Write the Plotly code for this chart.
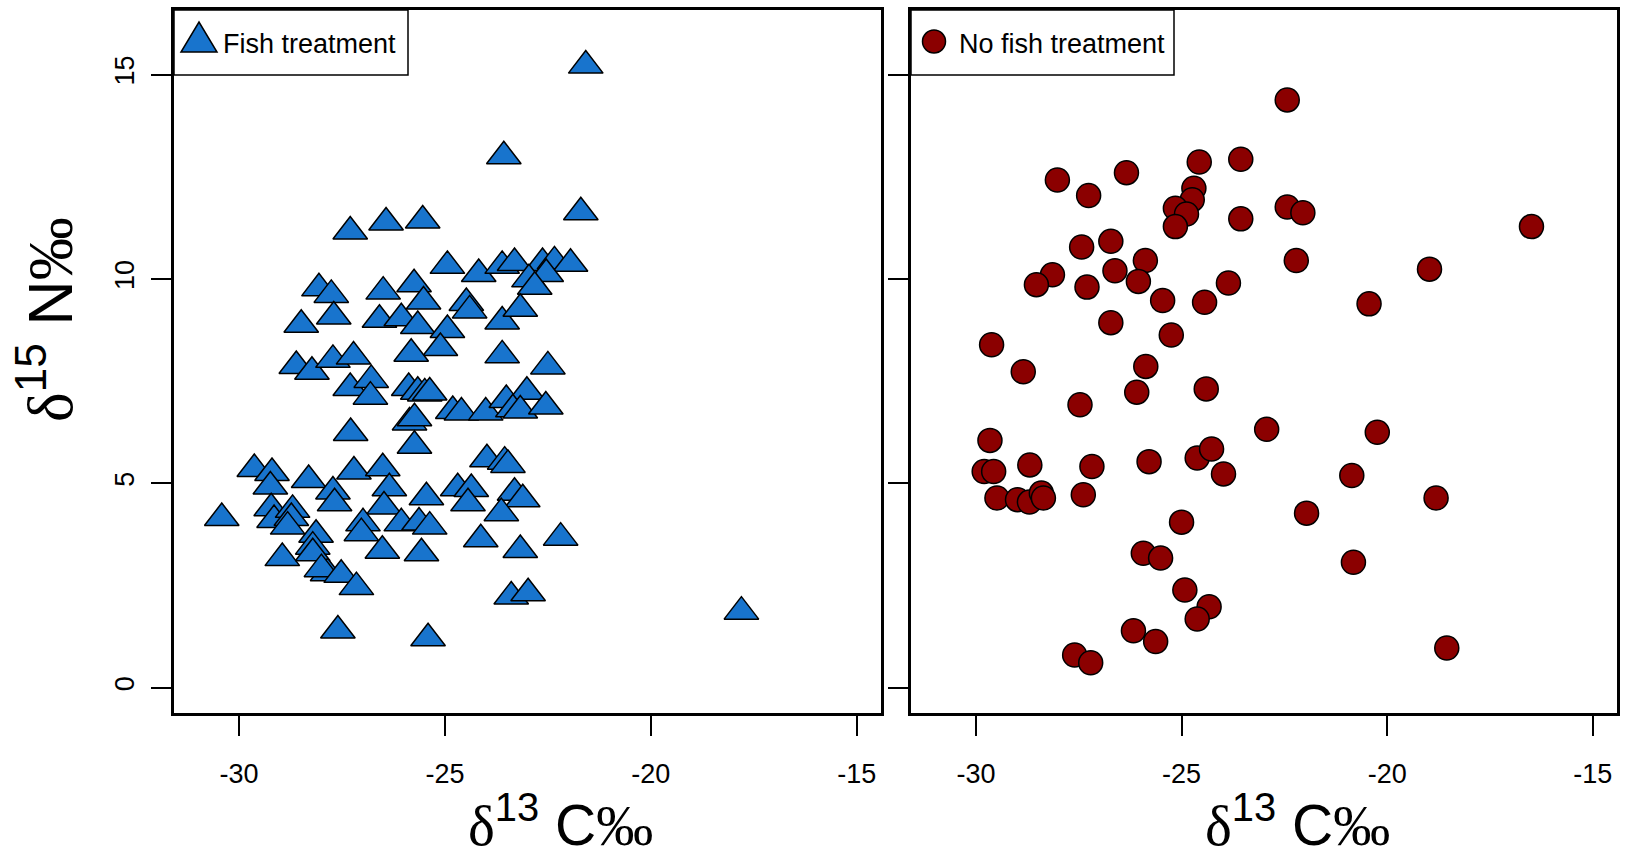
import plotly.graph_objects as go

# ---- data: Fish treatment (triangles) ----
fish_d13C = [-30.42, -29.63, -29.20, -29.24, -29.22, -29.15, -28.70, -28.73, -28.82, -28.95,
             -28.31, -28.13, -28.21, -28.21, -27.72, -27.68, -27.21, -26.51, -26.35, -26.48,
             -26.99, -27.03, -27.85, -28.00, -27.52, -27.15, -27.60, -26.06, -26.52, -25.41,
             -28.06, -27.76, -28.49, -27.70, -26.50, -26.59, -26.06, -28.61, -28.23, -27.72,
             -27.22, -27.30, -26.79, -26.81, -27.29, -27.30, -26.43, -25.54, -21.70, -21.58,
             -23.57, -24.94, -24.18, -25.75, -23.61, -23.31, -22.63, -22.34, -21.95, -22.96,
             -22.54, -22.82, -25.52, -24.48, -24.40, -23.61, -23.17, -25.66, -24.94, -25.11,
             -25.82, -23.61, -22.50, -25.88, -25.66, -25.49, -25.37, -24.81, -24.60, -24.01,
             -23.51, -23.01, -23.35, -23.17, -22.55, -25.86, -25.74, -25.74, -23.98, -23.55,
             -23.47, -24.69, -24.36, -24.44, -23.31, -23.11, -23.63, -25.45, -25.63, -25.37,
             -25.57, -24.13, -23.17, -22.19, -23.39, -22.98, -17.80]
fish_d15N = [4.15, 5.35, 5.25, 4.92, 4.39, 4.10, 4.35, 4.15, 3.94, 3.17,
             5.08, 3.74, 3.45, 3.29, 4.80, 4.51, 5.29, 5.37, 4.88, 4.43,
             4.02, 3.78, 2.80, 2.90, 2.76, 2.46, 1.40, 4.02, 3.35, 1.21,
             9.77, 9.61, 8.88, 9.08, 9.69, 9.00, 9.04, 7.87, 7.73, 8.02,
             8.10, 7.33, 7.53, 7.12, 6.23, 11.16, 11.38, 11.43, 11.63, 15.22,
             13.00, 10.32, 10.12, 9.87, 10.32, 10.39, 10.39, 10.43, 10.37, 9.99,
             10.12, 9.81, 9.45, 9.41, 9.23, 8.96, 9.27, 8.85, 8.75, 8.31,
             8.17, 8.13, 7.86, 7.33, 7.24, 7.20, 7.22, 6.77, 6.73, 6.73,
             7.04, 7.24, 6.81, 6.78, 6.88, 6.49, 6.59, 5.92, 5.59, 5.53,
             5.45, 4.88, 4.86, 4.51, 4.77, 4.61, 4.27, 4.66, 4.04, 3.94,
             3.29, 3.63, 3.37, 3.67, 2.23, 2.31, 1.86]

# ---- data: No fish treatment (circles) ----
nofish_d13C = [-28.02, -27.26, -26.34, -24.57, -23.56, -24.70, -24.74, -25.15, -24.88, -25.15,
               -23.56, -27.43, -26.72, -25.88, -26.62, -26.05, -28.14, -28.53, -27.30, -23.86,
               -25.46, -24.44, -26.72, -25.25, -29.62, -22.43, -22.43, -22.05, -16.49, -22.21,
               -18.97, -20.44, -28.85, -25.87, -26.09, -24.40, -27.47, -29.66, -29.80, -29.57,
               -28.69, -27.18, -25.79, -24.62, -24.27, -23.98, -29.49, -28.99, -28.70, -28.41,
               -28.36, -27.39, -25.00, -25.93, -25.51, -24.92, -24.33, -24.62, -26.17, -25.63,
               -27.60, -27.21, -22.93, -20.24, -20.86, -18.81, -21.96, -20.82, -18.55]
nofish_d15N = [12.42, 12.04, 12.60, 12.86, 12.93, 12.22, 11.94, 11.73, 11.59, 11.28,
               11.47, 10.78, 10.92, 10.45, 10.20, 9.94, 10.10, 9.86, 9.80, 9.90,
               9.47, 9.43, 8.93, 8.63, 8.39, 14.38, 11.76, 11.62, 11.28, 10.45,
               10.24, 9.39, 7.73, 7.86, 7.23, 7.31, 6.92, 6.05, 5.29, 5.29,
               5.45, 5.41, 5.53, 5.62, 5.84, 5.23, 4.64, 4.60, 4.54, 4.76,
               4.64, 4.72, 4.05, 3.29, 3.17, 2.39, 1.98, 1.68, 1.39, 1.13,
               0.80, 0.61, 6.32, 6.25, 5.19, 4.64, 4.27, 3.07, 0.97]

x_tickvals = [-30, -25, -20, -15]
x_ticktext = ["-30", "-25", "-20", "-15"]
y_tickvals = [0, 5, 10, 15]
y_ticktext = ["0", "5", "10", "15"]
legend_labels = ["Fish treatment", "No fish treatment"]

W, H = 1627, 860
BLUE = "#1874CD"
RED = "#8B0000"

def px_x(p):
    return p / W

def px_y(p):
    return 1 - p / H

fig = go.Figure()
fig.add_trace(go.Scatter(
    x=fish_d13C, y=fish_d15N, mode="markers", xaxis="x", yaxis="y",
    marker=dict(symbol="triangle-up", size=30, color=BLUE,
                line=dict(color="black", width=1.5)),
    showlegend=False, hoverinfo="skip"))
fig.add_trace(go.Scatter(
    x=nofish_d13C, y=nofish_d15N, mode="markers", xaxis="x2", yaxis="y2",
    marker=dict(symbol="circle", size=24, color=RED,
                line=dict(color="black", width=1.5)),
    showlegend=False, hoverinfo="skip"))

xr = [-31.58, -14.41]
yr = [-0.62, 16.58]
tickfont = dict(family="Liberation Sans, Arial", size=27, color="black")

common_x = dict(range=xr, tickvals=x_tickvals, ticktext=x_ticktext, ticks="outside",
                ticklen=20, tickwidth=1.5, tickcolor="black", showline=True,
                linewidth=3, linecolor="black", mirror=True, showgrid=False,
                zeroline=False, tickfont=tickfont, ticklabelstandoff=15)
common_y = dict(range=yr, tickvals=y_tickvals, ticktext=y_ticktext, ticks="outside",
                ticklen=20, tickwidth=1.5, tickcolor="black", showline=True,
                linewidth=3, linecolor="black", mirror=True, showgrid=False,
                zeroline=False, tickfont=tickfont, tickangle=-90)

fig.update_layout(
    width=W, height=H,
    margin=dict(l=0, r=0, t=0, b=0),
    paper_bgcolor="white", plot_bgcolor="white",
    xaxis=dict(domain=[px_x(174), px_x(881)], anchor="y", **common_x),
    yaxis=dict(domain=[px_y(713), px_y(10)], anchor="x", ticklabelstandoff=6, **common_y),
    xaxis2=dict(domain=[px_x(911), px_x(1617)], anchor="y2", **common_x),
    yaxis2=dict(domain=[px_y(713), px_y(10)], anchor="x2", showticklabels=False, **common_y),
)

serif = "Liberation Serif"
def title(sup, letter):
    return ('<span style="font-family:%s">δ</span><sup>%s</sup> %s'
            '<span style="font-family:%s">‰</span>' % (serif, sup, letter, serif))

tfont = dict(family="Liberation Sans, Arial", size=57, color="black")
yfont = dict(family="Liberation Sans, Arial", size=63, color="black")
lfont = dict(family="Liberation Sans, Arial", size=27, color="black")
annotations = [
    dict(text=title("13", "C"), x=px_x(560), y=px_y(821), xref="paper", yref="paper",
         xanchor="center", yanchor="middle", showarrow=False, font=tfont),
    dict(text=title("13", "C"), x=px_x(1297), y=px_y(821), xref="paper", yref="paper",
         xanchor="center", yanchor="middle", showarrow=False, font=tfont),
    dict(text=title("15", "N"), x=px_x(46), y=px_y(320), xref="paper", yref="paper",
         xanchor="center", yanchor="middle", showarrow=False, font=yfont, textangle=-90),
    dict(text=legend_labels[0], x=px_x(221), y=px_y(44), xref="paper", yref="paper",
         xanchor="left", yanchor="middle", showarrow=False, font=lfont),
    dict(text=legend_labels[1], x=px_x(957), y=px_y(44), xref="paper", yref="paper",
         xanchor="left", yanchor="middle", showarrow=False, font=lfont),
]

shapes = [
    dict(type="rect", xref="paper", yref="paper", x0=px_x(174), x1=px_x(408),
         y0=px_y(75), y1=px_y(10), line=dict(color="black", width=1.5), fillcolor="white",
         layer="above"),
    dict(type="rect", xref="paper", yref="paper", x0=px_x(911), x1=px_x(1174),
         y0=px_y(75), y1=px_y(10), line=dict(color="black", width=1.5), fillcolor="white",
         layer="above"),
    dict(type="path", xref="paper", yref="paper",
         path="M %f,%f L %f,%f L %f,%f Z" % (px_x(181), px_y(52), px_x(217), px_y(52),
                                             px_x(199), px_y(22)),
         line=dict(color="black", width=1.5), fillcolor=BLUE, layer="above"),
    dict(type="circle", xref="paper", yref="paper", x0=px_x(922.5), x1=px_x(945.5),
         y0=px_y(53), y1=px_y(30), line=dict(color="black", width=1.5), fillcolor=RED,
         layer="above"),
]

fig.update_layout(annotations=annotations, shapes=shapes)
fig.write_html("out.html", config={"displayModeBar": False},
               post_script="document.body.style.margin='0';")
